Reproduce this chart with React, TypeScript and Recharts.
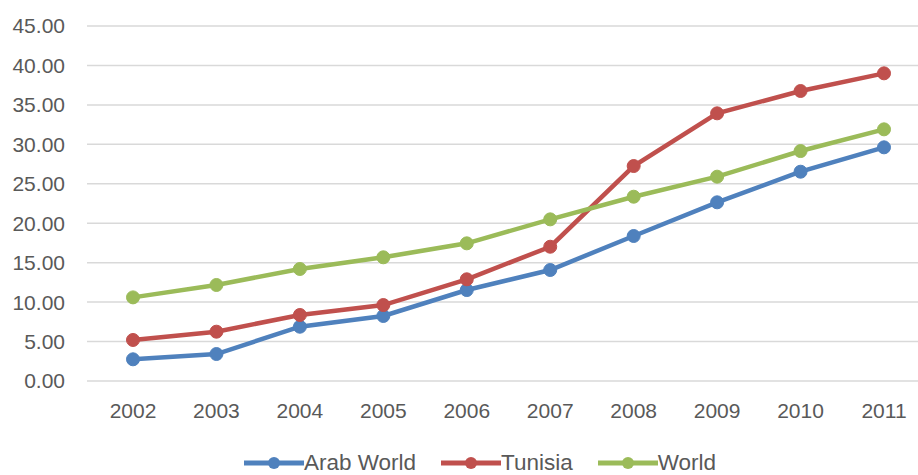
import React from 'react';
import { LineChart, CartesianGrid, XAxis, YAxis, Legend, Line } from 'recharts';

const years = ['2002', '2003', '2004', '2005', '2006', '2007', '2008', '2009', '2010', '2011'];
const arabWorld = [2.75, 3.42, 6.88, 8.24, 11.53, 14.07, 18.38, 22.65, 26.53, 29.62];
const tunisia = [5.2, 6.25, 8.37, 9.63, 12.89, 17.02, 27.25, 33.93, 36.76, 39.0];
const world = [10.6, 12.17, 14.2, 15.68, 17.45, 20.49, 23.36, 25.9, 29.15, 31.9];
const yTicks = [0, 5, 10, 15, 20, 25, 30, 35, 40, 45];

const series = [
  { key: 'arabWorld', name: 'Arab World', color: '#4F81BD' },
  { key: 'tunisia', name: 'Tunisia', color: '#C0504D' },
  { key: 'world', name: 'World', color: '#9BBB59' },
];

const data = years.map((year, i) => ({
  year,
  arabWorld: arabWorld[i],
  tunisia: tunisia[i],
  world: world[i],
}));

const FONT = '"Liberation Sans", Arial, sans-serif';
const TEXT = '#595959';

const LegendContent = () => (
  <div
    style={{
      display: 'flex',
      justifyContent: 'center',
      alignItems: 'center',
      boxSizing: 'border-box',
      paddingLeft: 42,
      paddingTop: 6,
      height: 30,
      fontFamily: FONT,
      fontSize: 22.5,
      color: TEXT,
      gap: 25,
    }}
  >
    {series.map((s) => (
      <div key={s.key} style={{ display: 'flex', alignItems: 'center' }}>
        <svg width={60} height={16}>
          <line x1={0} y1={8} x2={60} y2={8} stroke={s.color} strokeWidth={5} />
          <circle cx={30} cy={8} r={6} fill={s.color} />
        </svg>
        <span>{s.name}</span>
      </div>
    ))}
  </div>
);

const App: React.FC = () => {
  return (
    <div style={{ position: 'absolute', left: 0, top: 0, background: '#fff' }}>
      <LineChart
        width={918}
        height={475}
        data={data}
        margin={{ top: 26, right: 0, left: 0, bottom: 0 }}
      >
        <CartesianGrid vertical={false} stroke="#d9d9d9" strokeWidth={1.5} />
        <XAxis
          dataKey="year"
          axisLine={false}
          tickLine={false}
          height={64}
          tickMargin={16}
          padding={{ left: 46, right: 34 }}
          tick={{ fill: TEXT, fontSize: 21, fontFamily: FONT }}
        />
        <YAxis
          domain={[0, 45]}
          ticks={yTicks}
          width={87}
          axisLine={false}
          tickLine={false}
          tickMargin={16}
          tickFormatter={(v: number) => v.toFixed(2)}
          tick={{ fill: TEXT, fontSize: 21, fontFamily: FONT }}
        />
        <Legend verticalAlign="bottom" height={30} content={<LegendContent />} />
        {series.map((s) => (
          <Line
            key={s.key}
            type="linear"
            dataKey={s.key}
            name={s.name}
            stroke={s.color}
            strokeWidth={4.5}
            dot={{ r: 6.5, fill: s.color, stroke: s.color, strokeWidth: 1 }}
            isAnimationActive={false}
          />
        ))}
      </LineChart>
    </div>
  );
};

export default App;
